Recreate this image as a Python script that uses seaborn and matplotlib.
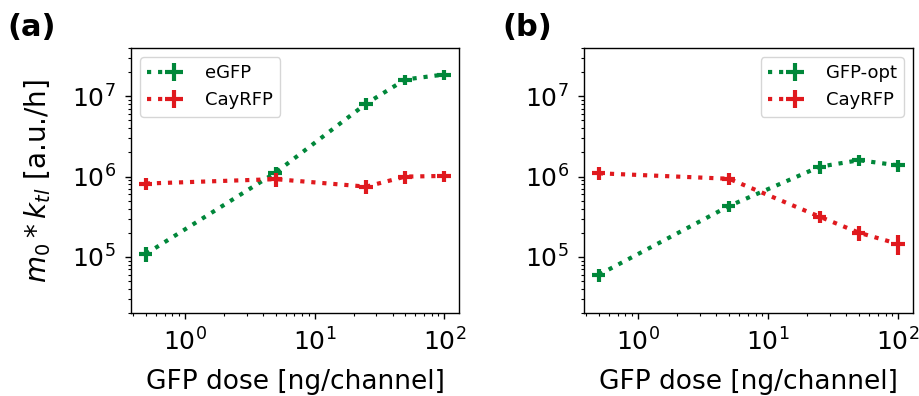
import numpy as np
import pandas as pd
import matplotlib
matplotlib.use("Agg")
import matplotlib.pyplot as plt
import seaborn as sns
from matplotlib.lines import Line2D
from matplotlib.legend_handler import HandlerTuple

sns.set_style("ticks")
plt.rcParams['font.family'] = ['DejaVu Sans']
plt.rcParams.update({
    "text.color": "black", "axes.labelcolor": "black",
    "xtick.color": "black", "ytick.color": "black",
    "axes.edgecolor": "black",
})

dose = [0.5, 5, 25, 50, 100]
dose_err = [0.06, 0.6, 3, 6, 12]

# panel (a)
a_gfp = [1.09e5, 1.12e6, 8.1e6, 1.62e7, 1.87e7]
a_gfp_err = [0.22e5, 0.2e6, 1.4e6, 2.5e6, 2.8e6]
a_rfp = [8.2e5, 9.3e5, 7.5e5, 1.0e6, 1.02e6]
a_rfp_err = [1.4e5, 1.8e5, 1.5e5, 1.8e5, 1.7e5]

# panel (b)
b_gfp = [6.0e4, 4.3e5, 1.33e6, 1.6e6, 1.38e6]
b_gfp_err = [1.1e4, 0.7e5, 0.25e6, 0.25e6, 0.23e6]
b_rfp = [1.1e6, 9.4e5, 3.16e5, 2.0e5, 1.45e5]
b_rfp_err = [0.2e6, 1.6e5, 0.55e5, 0.4e5, 0.4e5]

labels_a = ["eGFP", "CayRFP"]
labels_b = ["GFP-opt", "CayRFP"]
GREEN = "#00873a"
RED = "#e0191e"

W, H = 919, 396
fig = plt.figure(figsize=(W / 100, H / 100), dpi=100)
ax1 = fig.add_axes([131 / W, 1 - 313 / H, (459 - 131) / W, (313 - 48) / H])
ax2 = fig.add_axes([584 / W, 1 - 313 / H, (913 - 584) / W, (313 - 48) / H])

LS = ":"
LW = 3


def panel(ax, series, labels, loc):
    handles = []
    for (y, yerr), lab, col in zip(series, labels, [GREEN, RED]):
        df = pd.DataFrame({"dose": dose, "val": y})
        sns.lineplot(data=df, x="dose", y="val", ax=ax, color=col, lw=LW,
                     linestyle=LS, legend=False)
        cont = ax.errorbar(dose, y, xerr=dose_err, yerr=yerr, fmt="none",
                           ecolor=col, elinewidth=3, capsize=0)
        ln = Line2D([], [], color=col, lw=LW, linestyle=LS)
        handles.append(((ln, cont), lab))
    ax.set_xscale("log")
    ax.set_yscale("log")
    ax.set_xlim(0.384, 130)
    ax.set_ylim(2e4, 4e7)
    ax.set_xlabel("GFP dose [ng/channel]", fontsize=19, va="top")
    ax.xaxis.set_label_coords(0.5, -0.212)
    ax.set_ylabel("")
    ax.tick_params(axis="both", which="major", labelsize=18, length=4.5,
                   width=1, pad=6.5)
    ax.tick_params(axis="both", which="minor", length=2.5, width=0.8)
    for s in ax.spines.values():
        s.set_visible(True)
        s.set_linewidth(1.0)
        s.set_color("black")
    ax.legend([h for h, _ in handles], [l for _, l in handles],
              handler_map={tuple: HandlerTuple(ndivide=None, pad=0)},
              loc=loc, fontsize=13, handlelength=2.0, handletextpad=1.2)


panel(ax1, [(a_gfp, a_gfp_err), (a_rfp, a_rfp_err)], labels_a, "upper left")
panel(ax2, [(b_gfp, b_gfp_err), (b_rfp, b_rfp_err)], labels_b, "upper right")
ax1.set_ylabel("$m_0 * k_{tl}$ [a.u./h]", fontsize=20)
ax1.yaxis.set_label_coords(-0.238, 0.5)

fig.text(7 / W, 1 - 27 / H, "(a)", fontsize=22, fontweight="bold", va="center")
fig.text(502 / W, 1 - 27 / H, "(b)", fontsize=22, fontweight="bold", va="center")

fig.savefig("out.png", dpi=100)
